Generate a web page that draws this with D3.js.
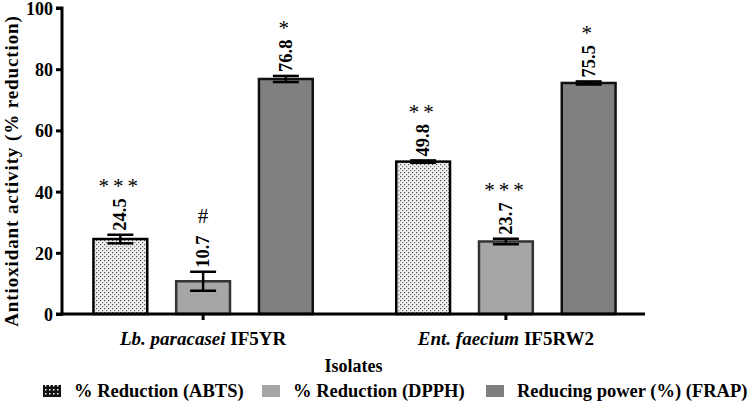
<!DOCTYPE html>
<html>
<head>
<meta charset="utf-8">
<script src="https://cdn.jsdelivr.net/npm/d3@7"></script>
<style>
body { margin: 0; background: #fff; }
text { font-family: "Liberation Serif", "Times New Roman", serif; }
</style>
</head>
<body>
<div id="chart"></div>
<script>
// data
var categories = ["Lb. paracasei IF5YR", "Ent. faecium IF5RW2"];
var catItalic = ["Lb. paracasei", "Ent. faecium"];
var catPlain = [" IF5YR", " IF5RW2"];
var series = ["% Reduction (ABTS)", "% Reduction (DPPH)", "Reducing power (%) (FRAP)"];
var abts = [24.5, 49.8];
var abtsErr = [1.4, 0.4];
var abtsSig = ["***", "**"];
var dpph = [10.7, 23.7];
var dpphErr = [3.1, 0.9];
var dpphSig = ["#", "***"];
var frap = [76.8, 75.5];
var frapErr = [1.0, 0.5];
var frapSig = ["*", "*"];
var yTicks = [0, 20, 40, 60, 80, 100];

var width = 750, height = 407;
var margin = {top: 8, left: 62, bottom: 93, right: 105};

var svg = d3.select("#chart").append("svg")
  .attr("width", width)
  .attr("height", height)
  .attr("font-family", "Liberation Serif, serif");

// patterns for the dotted ABTS fill
var defs = svg.append("defs");
var pat = defs.append("pattern")
  .attr("id", "dots").attr("patternUnits", "userSpaceOnUse")
  .attr("width", 4).attr("height", 4);
pat.append("rect").attr("width", 4).attr("height", 4).attr("fill", "#eeeeee");
pat.append("rect").attr("x", 0).attr("y", 0).attr("width", 1.2).attr("height", 1.2).attr("fill", "#555");
pat.append("rect").attr("x", 2).attr("y", 2).attr("width", 1.2).attr("height", 1.2).attr("fill", "#777");

var pat2 = defs.append("pattern")
  .attr("id", "dotsDark").attr("patternUnits", "userSpaceOnUse")
  .attr("width", 4).attr("height", 4);
pat2.append("rect").attr("width", 4).attr("height", 4).attr("fill", "#111");
pat2.append("rect").attr("x", 1).attr("y", 1).attr("width", 1.5).attr("height", 1.5).attr("fill", "#fff");

var fills = ["url(#dots)", "#a6a6a8", "#808080"];
var strokes = ["#000", "#333", "#111"];
var legendFills = ["url(#dotsDark)", "#a6a6a8", "#808080"];

var rows = [];
categories.forEach(function(c, i) {
  rows.push({cat: c, s: series[0], v: abts[i], e: abtsErr[i], sig: abtsSig[i], k: 0});
  rows.push({cat: c, s: series[1], v: dpph[i], e: dpphErr[i], sig: dpphSig[i], k: 1});
  rows.push({cat: c, s: series[2], v: frap[i], e: frapErr[i], sig: frapSig[i], k: 2});
});

var x0 = d3.scaleBand().domain(categories)
  .range([margin.left, width - margin.right + 2])
  .paddingInner(0.18).paddingOuter(0.056);
var x1 = d3.scaleBand().domain(series)
  .range([0, x0.bandwidth()])
  .paddingInner(0.35).paddingOuter(0.175);
var y = d3.scaleLinear().domain([0, 100]).range([height - margin.bottom, margin.top]);

// bars
var g = svg.append("g");
g.selectAll("rect.bar").data(rows).enter().append("rect")
  .attr("class", "bar")
  .attr("x", function(d) { return x0(d.cat) + x1(d.s); })
  .attr("y", function(d) { return y(d.v); })
  .attr("width", x1.bandwidth())
  .attr("height", function(d) { return y(0) - y(d.v); })
  .attr("fill", function(d) { return fills[d.k]; })
  .attr("stroke", function(d) { return strokes[d.k]; })
  .attr("stroke-width", 2.5);

// error bars
var cap = 13;
rows.forEach(function(d) {
  var cx = x0(d.cat) + x1(d.s) + x1.bandwidth() / 2;
  var eg = g.append("g").attr("stroke", "#000").attr("stroke-width", 2.5);
  eg.append("line").attr("x1", cx).attr("x2", cx).attr("y1", y(d.v - d.e)).attr("y2", y(d.v + d.e));
  eg.append("line").attr("x1", cx - cap).attr("x2", cx + cap).attr("y1", y(d.v + d.e)).attr("y2", y(d.v + d.e));
  eg.append("line").attr("x1", cx - cap).attr("x2", cx + cap).attr("y1", y(d.v - d.e)).attr("y2", y(d.v - d.e));

  // value label, vertical
  var top = y(d.v + d.e) - 4;
  var lab = g.append("text")
    .attr("transform", "translate(" + (cx + 6) + "," + top + ") rotate(-90)")
    .attr("font-size", 18.5).attr("font-weight", "bold")
    .text(d.v.toFixed(1));
  var len = lab.node().getComputedTextLength();

  // significance mark
  g.append("text")
    .attr("x", cx).attr("y", top - len - (d.sig == "#" ? 12 : 5))
    .attr("text-anchor", "middle")
    .attr("font-size", 21)
    .attr("letter-spacing", d.sig == "#" ? 0 : 4)
    .text(d.sig);
});

// y axis
var yAxis = d3.axisLeft(y).tickValues(yTicks).tickSize(6).tickPadding(3);
var ya = svg.append("g").attr("transform", "translate(" + margin.left + ",0)").call(yAxis);
ya.attr("font-family", null);
ya.select(".domain").attr("stroke-width", 3).attr("d", "M-6," + y(100) + "H0V" + y(0) + "H-6");
ya.selectAll(".tick line").attr("stroke-width", 3);
ya.selectAll(".tick text").attr("font-size", 18).attr("font-weight", "bold")
  .attr("fill", "#000").attr("dy", "0.36em");

// x axis
var xAxis = d3.axisBottom(x0).tickSize(6).tickFormat("");
var xa = svg.append("g").attr("transform", "translate(0," + y(0) + ")").call(xAxis);
xa.select(".domain").attr("stroke-width", 3).attr("d", "M" + margin.left + ",0H645");
xa.selectAll(".tick line").attr("stroke-width", 3);

// category labels
categories.forEach(function(c, i) {
  var t = svg.append("text")
    .attr("x", x0(c) + x0.bandwidth() / 2).attr("y", 345)
    .attr("text-anchor", "middle")
    .attr("font-size", 19).attr("font-weight", "bold");
  t.append("tspan").attr("font-style", "italic").text(catItalic[i]);
  t.append("tspan").text(catPlain[i]);
});

svg.append("text")
  .attr("x", (margin.left + 645) / 2).attr("y", 372)
  .attr("text-anchor", "middle")
  .attr("font-size", 18).attr("font-weight", "bold")
  .text("Isolates");

svg.append("text")
  .attr("transform", "translate(18," + ((y(100) + y(0)) / 2 + 10) + ") rotate(-90)")
  .attr("text-anchor", "middle")
  .attr("font-size", 19).attr("font-weight", "bold")
  .attr("letter-spacing", 0.9)
  .text("Antioxidant activity (% reduction)");

// legend
var legX = [43, 262, 486];
var leg = svg.append("g");
series.forEach(function(s, i) {
  leg.append("rect")
    .attr("x", legX[i]).attr("y", 385)
    .attr("width", 18).attr("height", 12)
    .attr("fill", legendFills[i]);
  leg.append("text")
    .attr("x", legX[i] + 31).attr("y", 397)
    .attr("font-size", 18.5).attr("font-weight", "bold")
    .text(s);
});
</script>
</body>
</html>
